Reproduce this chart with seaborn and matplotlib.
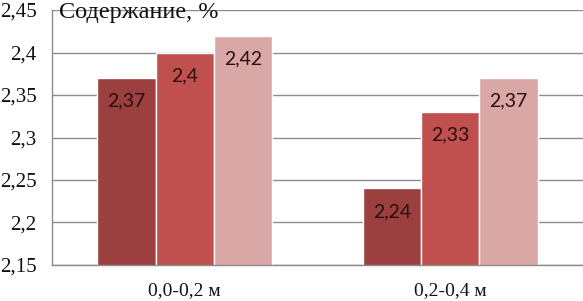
import matplotlib
matplotlib.use("Agg")
import matplotlib.pyplot as plt
import pandas as pd
import seaborn as sns

# data
depths = ["0,0-0,2 м", "0,2-0,4 м"]
series = ["1", "2", "3"]
values_1 = [2.37, 2.24]
values_2 = [2.40, 2.33]
values_3 = [2.42, 2.37]
y_ticks = [2.15, 2.2, 2.25, 2.3, 2.35, 2.4, 2.45]
y_labels = ["2,15", "2,2", "2,25", "2,3", "2,35", "2,4", "2,45"]

colors = ["#9C3F3F", "#C0504D", "#D8A7A6"]

df = pd.DataFrame({
    "depth": depths * 3,
    "series": [s for s in series for _ in depths],
    "value": values_1 + values_2 + values_3,
})

sns.set_theme(style="white")
plt.rcParams["font.family"] = ["Liberation Serif", "DejaVu Serif"]

fig = plt.figure(figsize=(5.83, 3.01), dpi=100)
ax = fig.add_axes([52 / 583, 36 / 301, 1 - 52 / 583, 255 / 301])

sns.barplot(data=df, x="depth", y="value", hue="series", order=depths,
            hue_order=series, palette=colors, width=0.66, saturation=1,
            edgecolor="white", linewidth=1.0, legend=False, ax=ax)

ax.set_ylim(2.15, 2.45)
ax.set_xlim(-0.5, 1.5)
ax.set_yticks(y_ticks)
ax.set_yticklabels(y_labels, fontsize=15, color="#111111")
ax.yaxis.grid(True, color="#8c8c8c", linewidth=1.0)
ax.set_axisbelow(True)
ax.tick_params(axis="x", which="major", length=0, labelsize=14, pad=12, colors="#111111")
ax.set_xticks([-0.5, 0.5, 1.5], minor=True)
ax.tick_params(axis="x", which="minor", length=6, color="#8c8c8c", width=1, direction="out")
ax.tick_params(axis="y", length=6, color="#8c8c8c", width=1, direction="out", pad=5)
ax.set_xlabel("")
ax.set_ylabel("")
for s in ["top", "right"]:
    ax.spines[s].set_visible(False)
for s in ["left", "bottom"]:
    ax.spines[s].set_color("#8c8c8c")
    ax.spines[s].set_linewidth(1.0)

# value labels inside the bars, just under the top
for p in ax.patches:
    h = p.get_height()
    if h <= 0:
        continue
    ax.annotate(f"{h:g}".replace(".", ","),
                xy=(p.get_x() + p.get_width() / 2, h),
                xytext=(0, -23), textcoords="offset pixels",
                ha="center", va="center", fontsize=14,
                family=["Lato", "DejaVu Sans"], color="#2a0d0d")

fig.text(59 / 583, 1 - 2 / 301, "Содержание, %", fontsize=17.5,
         ha="left", va="top", color="#111111")

fig.savefig("out.png", dpi=100)
